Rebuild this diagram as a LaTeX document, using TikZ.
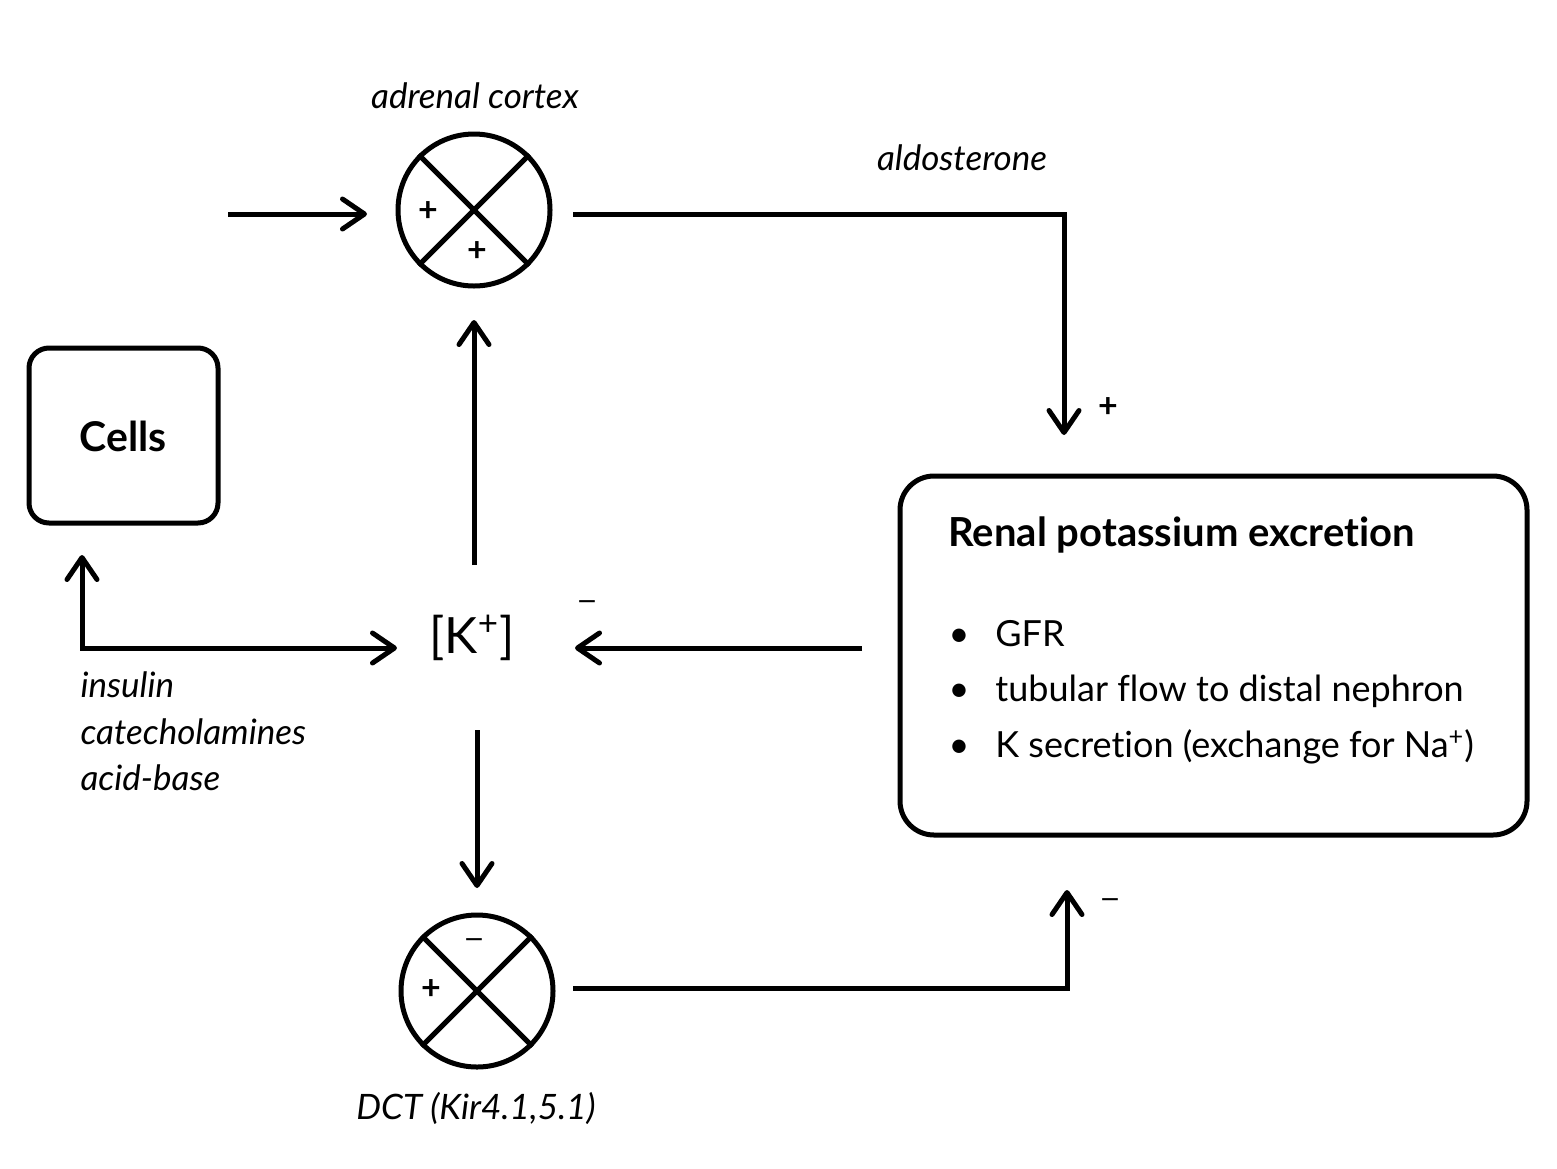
\documentclass[tikz,border=0pt]{standalone}
\usepackage{fontspec}
\setmainfont{Lato}[RawFeature=-liga]
\newfontfamily\dvsans{DejaVu Sans}
\usetikzlibrary{arrows.meta}
\newcommand{\mysign}{{\dvsans\symbol{"2212}}}
\begin{document}
\begin{tikzpicture}[x=0.5pt,y=-0.5pt,
  line width=2.5pt,
  arr/.style={-{Straight Barb[length=11pt,width=15pt,line cap=round,line join=round]}},
  darr/.style={{Straight Barb[length=11pt,width=15pt,line cap=round,line join=round]}-{Straight Barb[length=11pt,width=15pt,line cap=round,line join=round]}},
  sumnode/.style={circle,draw,line width=2.5pt,minimum size=76pt,inner sep=0pt},
  lbl/.style={font=\fontsize{17.5}{20}\selectfont\itshape,inner sep=0pt},
  txt/.style={font=\fontsize{18}{21}\selectfont,inner sep=0pt},
  sgn/.style={font=\fontsize{17}{19}\selectfont\bfseries,inner sep=0pt},
  msgn/.style={font=\fontsize{12.5}{15}\selectfont,inner sep=0pt},
  boxnode/.style={draw,line width=2.5pt,rounded corners=#1,inner sep=0pt},
]
\useasboundingbox (0,0) rectangle (1557,1168);

% summing junctions
\node[sumnode] (s1) at (474,210) {};
\draw (s1.45) -- (s1.225);
\draw (s1.135) -- (s1.-45);
\node[sgn] (s1a) at (428,212) {+};
\node[sgn] (s1b) at (477,252) {+};

\node[sumnode] (s2) at (477,991) {};
\draw (s2.45) -- (s2.225);
\draw (s2.135) -- (s2.-45);
\node[msgn] (s2a) at (474,943) {\mysign};
\node[sgn] (s2b) at (431,990) {+};

% labels
\node[lbl] (adr) at (475,96) {adrenal cortex};
\node[lbl] (ald) at (962,158) {aldosterone};
\node[lbl] (dct) at (476,1108) {DCT (Kir4.1,5.1)};

% K node
\node[txt,font=\fontsize{25}{28}\selectfont] (k) at (472,638) {[K\textsuperscript{+}]};

% Cells box
\node[boxnode=10pt,minimum width=94.5pt,minimum height=87.5pt] (cells) at (123.5,435.5) {};
\node[txt,font=\fontsize{20.5}{24}\selectfont\bfseries] (cellst) at (123,436) {Cells};

% Renal box
\node[boxnode=17pt,minimum width=313.5pt,minimum height=179.5pt] (renal) at (1213.5,655.5) {};
\node[txt,anchor=west,font=\fontsize{20}{23}\selectfont\bfseries] (rt) at (946,535) {Renal potassium excretion};
\node[txt,anchor=west] (b1) at (946,634) {\textbullet\hspace{13pt}GFR};
\node[txt,anchor=west] (b2) at (946,691) {\textbullet\hspace{13pt}tubular flow to distal nephron};
\node[txt,anchor=west] (b3) at (946,747) {\textbullet\hspace{13pt}K secretion (exchange for Na\textsuperscript{+})};

% insulin etc.
\node[lbl,anchor=west] (ins) at (78,685) {insulin};
\node[lbl,anchor=west] (cat) at (78,732) {catecholamines};
\node[lbl,anchor=west] (acb) at (78,778) {acid-base};

% coordinates
\coordinate (inS) at (228,214);
\coordinate (inE) at (367,214);
\coordinate (aldA) at (573,214);
\coordinate (aldC) at (1064,214);
\coordinate (aldE) at (1064,435);
\coordinate (kUpS) at (474,565);
\coordinate (kUpE) at (474,320);
\coordinate (kDnS) at (477,730);
\coordinate (kDnE) at (477,888);
\coordinate (dctA) at (573,988);
\coordinate (dctC) at (1067,988);
\coordinate (dctE) at (1067,890);
\coordinate (renS) at (862,648);
\coordinate (renE) at (575,648);
\coordinate (cellE) at (82,555);
\coordinate (cellC) at (82,648);
\coordinate (kL) at (397,648);

% connectors
\draw[arr] (inS) -- (inE);
\draw[arr] (aldA) -- (aldC) -- (aldE);
\draw[arr] (kUpS) -- (kUpE);
\draw[arr] (kDnS) -- (kDnE);
\draw[arr] (dctA) -- (dctC) -- (dctE);
\draw[arr] (renS) -- (renE);
\draw[darr] (cellE) -- (cellC) -- (kL);

% signs
\node[sgn] (p1) at (1108,408) {+};
\node[msgn] (m1) at (1110,903) {\mysign};
\node[msgn] (m2) at (587,605) {\mysign};
\end{tikzpicture}
\end{document}
